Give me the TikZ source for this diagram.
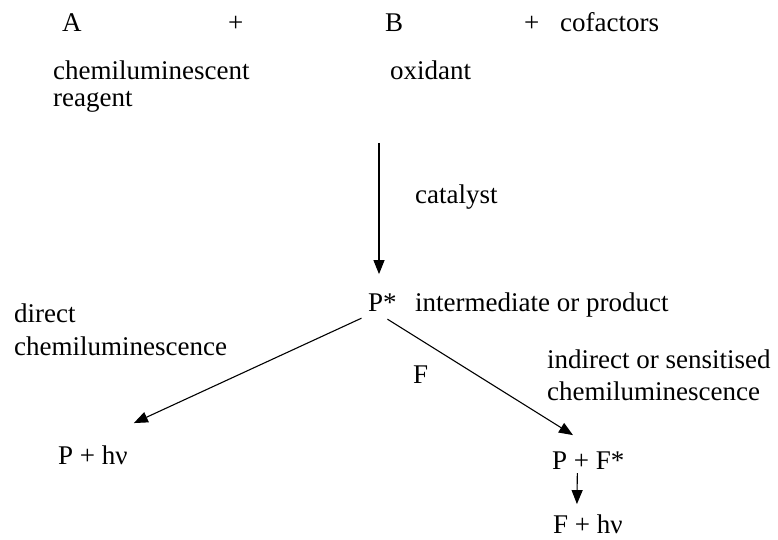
\documentclass[tikz,border=0pt]{standalone}
\usepackage{fontspec}
\setmainfont{Liberation Serif}
\usetikzlibrary{arrows.meta}

\begin{document}
\begin{tikzpicture}[x=1pt,y=-1pt,font=\fontsize{27}{32}\selectfont]

        % Stili globali
        \tikzset{
            txt/.style={anchor=base west, inner sep=0pt},
            arr/.style={-{Triangle[length=14pt,width=11pt]}, line width=1.1pt}
        }

        % Area del disegno
        \useasboundingbox (0,0) rectangle (778,540);

        % Reagenti in alto
        \node[txt] (A) at (62,32) {A};
        \node[txt] (plusA) at (228,32) {+};
        \node[txt] (B) at (385,32) {B};
        \node[txt] (plusB) at (524,32) {+};
        \node[txt] (cof) at (560,32) {cofactors};

        % Descrizione dei reagenti
        \node[txt] (reag1) at (53,80) {chemiluminescent};
        \node[txt] (reag2) at (53,107) {reagent};
        \node[txt] (oxid) at (390,80) {oxidant};

        % Catalizzatore e intermedio
        \coordinate (cattop) at (379,143);
        \node[txt] (cat) at (415,203) {catalyst};
        \node[txt] (pstar) at (368,311) {P*};
        \node[txt] (inter) at (415,311) {intermediate or product};

        % Ramo diretto
        \node[txt] (dir1) at (14,322) {direct};
        \node[txt] (dir2) at (14,355) {chemiluminescence};
        \node[txt] (phv) at (58,464) {P + hν};

        % Ramo indiretto
        \node[txt] (F) at (413,383) {F};
        \node[txt] (ind1) at (547,368) {indirect or sensitised};
        \node[txt] (ind2) at (547,400) {chemiluminescence};
        \node[txt] (pf) at (552,469) {P + F*};
        \node[txt] (fhv) at (553,533) {F + hν};

        % Frecce
        \draw[arr, shorten >=19pt] (cattop) -- (cattop |- pstar.north);
        \draw[arr] ([xshift=-21pt,yshift=-7pt]pstar.south) -- ([xshift=6pt,yshift=22pt]phv.north east);
        \draw[arr] ([xshift=5pt,yshift=-8pt]pstar.south) -- ([xshift=21pt,yshift=16pt]pf.north west);
        \draw[arr] ([xshift=-11pt,yshift=-4pt]pf.south) -- ([xshift=-11pt,yshift=10pt]fhv.north);

    \end{tikzpicture}
\end{document}
